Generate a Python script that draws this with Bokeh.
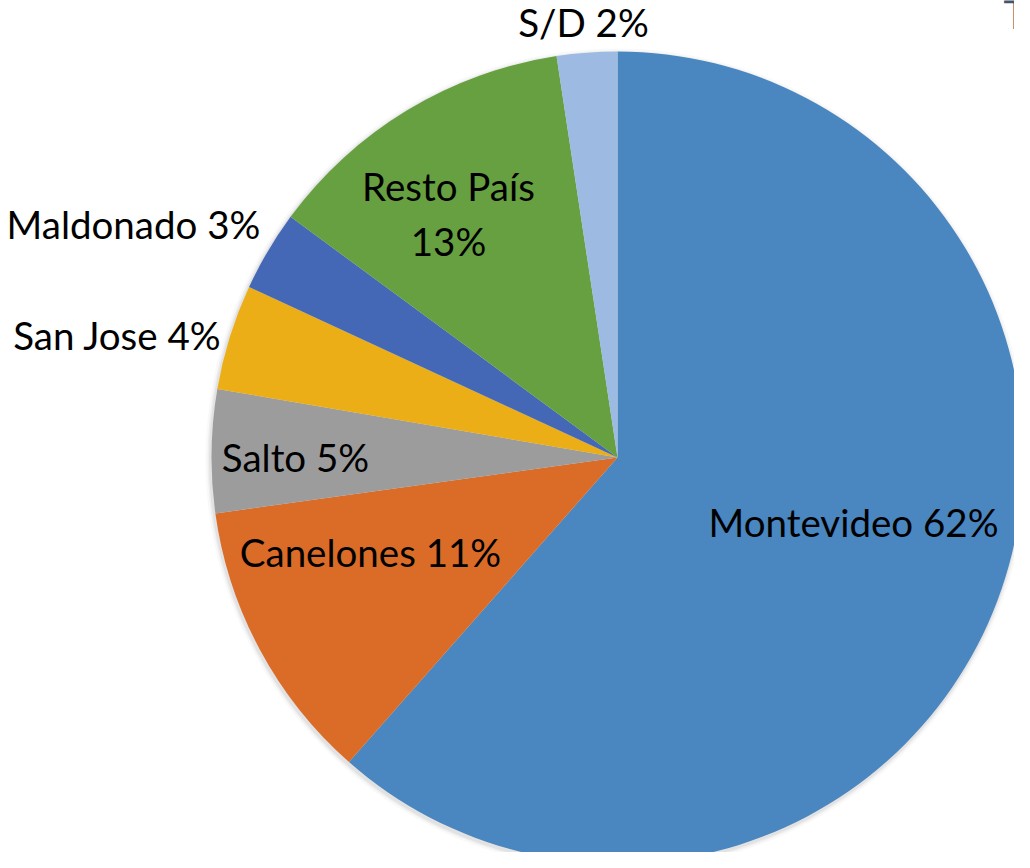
import math
from bokeh.plotting import figure
from bokeh.models import Range1d, ColumnDataSource
from bokeh.core.properties import value
from bokeh.embed import file_html
from bokeh.resources import INLINE

# ---- data ----
categories = ["Montevideo", "Canelones", "Salto", "San Jose", "Maldonado", "Resto País", "S/D"]
shares = [61.5, 11.3, 4.9, 4.2, 3.2, 12.5, 2.4]
labels = ["Montevideo 62%", "Canelones 11%", "Salto 5%", "San Jose 4%", "Maldonado 3%", "Resto País\n13%", "S/D 2%"]
colors = ["#4A86C0", "#DA6C28", "#9C9C9C", "#EBAE16", "#4468B6", "#66A040", "#9DBBE2"]

# ---- layout (data units == pixels of the reference image, y up) ----
W, H = 1014, 852
IMG_H = 868
cx, cy, R = 617, IMG_H - 457, 406

p = figure(width=W, height=H, output_backend="svg", toolbar_location=None,
           x_range=Range1d(0, W), y_range=Range1d(IMG_H - H, IMG_H),
           min_border=0)
p.axis.visible = False
p.grid.visible = False
p.outline_line_color = None
p.background_fill_color = "white"

total = sum(shares)
starts, ends = [], []
acc = 0.0
for v in shares:
    a0 = math.pi / 2 - 2 * math.pi * acc / total
    acc += v
    a1 = math.pi / 2 - 2 * math.pi * acc / total
    starts.append(a0)
    ends.append(a1)

# soft shadow
for dr, al in [(5, 0.05), (3, 0.08), (1.5, 0.12)]:
    p.circle(x=[cx - 1], y=[cy - 2], radius=R + dr, fill_color="#808080",
             fill_alpha=al, line_color=None)

src = ColumnDataSource(dict(start=starts, end=ends, color=colors, cat=categories))
p.wedge(x=cx, y=cy, radius=R, start_angle="start", end_angle="end",
        direction="clock", fill_color="color", line_color=None, source=src)

# labels (positions in reference pixel coords)
label_pos = {
    "Montevideo": (853, 521),
    "Canelones": (370, 551),
    "Salto": (295, 456),
    "San Jose": (117, 334),
    "Maldonado": (133, 223),
    "Resto País": (448, 213),
    "S/D": (583, 21),
}
lx = [label_pos[c][0] for c in categories]
ly = [IMG_H - label_pos[c][1] for c in categories]
p.text(x=lx, y=ly, text=labels, text_align="center", text_baseline="middle",
       text_font=value("Lato"), text_font_size="38.5px", text_color="black",
       text_line_height=1.2)

# clipped title fragment at the top-right corner
p.text(x=[1003], y=[IMG_H - 13], text=["Te"], text_align="left", text_baseline="alphabetic",
       text_font=value("Lato"), text_font_size="40px", text_color="#44546A")

open("out.html", "w").write(file_html(p, INLINE))
